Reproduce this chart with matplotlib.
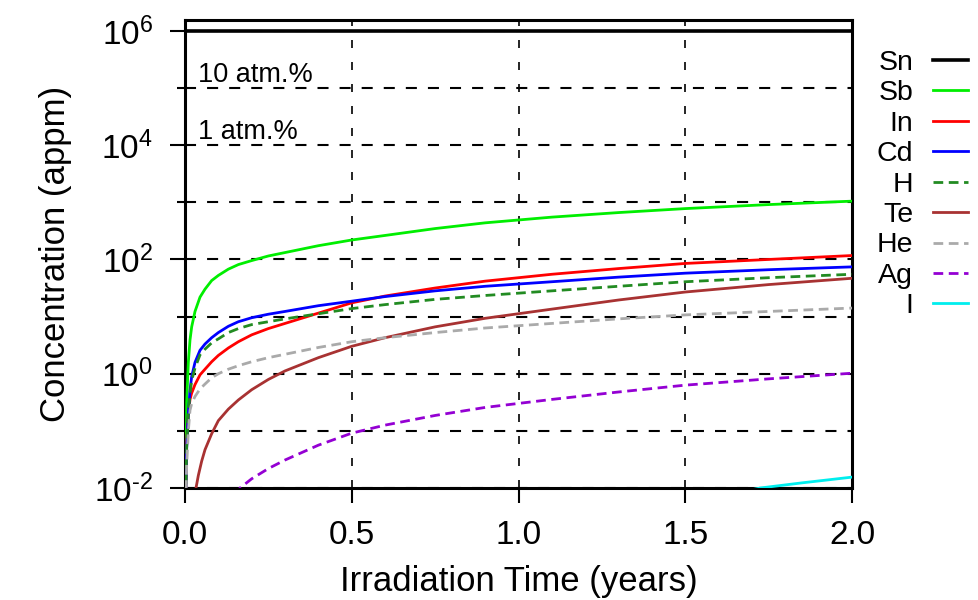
import numpy as np
import matplotlib
matplotlib.use("Agg")
import matplotlib.pyplot as plt

plt.rcParams.update({
    'font.family': 'sans-serif',
    'font.sans-serif': ['Liberation Sans', 'DejaVu Sans'],
    'mathtext.fontset': 'custom',
    'mathtext.rm': 'Liberation Sans',
    'mathtext.it': 'Liberation Sans',
    'mathtext.default': 'regular',
})

# concentrations (appm), time in years
t_sn = [0.0, 2.0]
sn = [1.0e6, 1.0e6]

t_sb = [0.002, 0.005, 0.01, 0.015, 0.02, 0.03, 0.045, 0.06, 0.08, 0.1, 0.13, 0.16,
        0.2, 0.25, 0.3, 0.4, 0.5, 0.6, 0.75, 0.9, 1.1, 1.3, 1.5, 1.75, 2.0]
sb = [0.0063, 0.32, 1.58, 3.9, 6.6, 12.3, 21.9, 30.2, 42.7, 52.5, 67.6, 81.3,
      95.5, 115, 132, 174, 219, 263, 347, 437, 550, 661, 776, 912, 1047]

t_in = [0.002, 0.005, 0.01, 0.015, 0.02, 0.03, 0.045, 0.06, 0.08, 0.1, 0.13, 0.16,
        0.2, 0.25, 0.3, 0.4, 0.5, 0.6, 0.75, 0.9, 1.1, 1.3, 1.5, 1.75, 2.0]
in_ = [0.0063, 0.063, 0.2, 0.355, 0.457, 0.646, 0.955, 1.2, 1.62, 2.09, 2.82, 3.63,
       4.79, 6.17, 7.59, 11.5, 17.4, 22.9, 31.6, 41.7, 55, 69.2, 85.1, 100, 117]

t_cd = [0.002, 0.005, 0.01, 0.015, 0.02, 0.03, 0.045, 0.06, 0.08, 0.1, 0.13, 0.16,
        0.2, 0.25, 0.3, 0.4, 0.5, 0.6, 0.75, 0.9, 1.1, 1.3, 1.5, 1.75, 2.0]
cd = [0.0063, 0.05, 0.2, 0.51, 0.89, 1.58, 2.57, 3.31, 4.27, 5.25, 6.76, 8.13,
      9.55, 11.0, 12.3, 15.5, 18.6, 22.4, 28.2, 33.9, 40.7, 49.0, 57.5, 66.1, 74.1]

t_h = [0.002, 0.005, 0.01, 0.015, 0.02, 0.03, 0.045, 0.06, 0.08, 0.1, 0.13, 0.16,
       0.2, 0.25, 0.3, 0.4, 0.5, 0.6, 0.75, 0.9, 1.1, 1.3, 1.5, 1.75, 2.0]
h = [0.0063, 0.05, 0.2, 0.45, 0.76, 1.26, 2.14, 2.69, 3.47, 4.07, 5.25, 6.17,
     7.24, 8.13, 9.12, 11.2, 13.8, 16.2, 20.0, 23.4, 28.2, 33.9, 40.7, 47.9, 55.0]

t_te = [0.028, 0.033, 0.04, 0.05, 0.06, 0.08, 0.1, 0.13, 0.16, 0.2, 0.25,
        0.3, 0.4, 0.5, 0.6, 0.75, 0.9, 1.1, 1.3, 1.5, 1.75, 2.0]
te = [0.005, 0.01, 0.0166, 0.0295, 0.0468, 0.0891, 0.151, 0.24, 0.347, 0.525, 0.794,
      1.12, 1.91, 3.02, 4.27, 6.61, 9.33, 13.5, 19.5, 26.9, 36.3, 46.8]

t_he = [0.002, 0.005, 0.01, 0.015, 0.02, 0.03, 0.045, 0.06, 0.08, 0.1, 0.13, 0.16,
        0.2, 0.25, 0.3, 0.4, 0.5, 0.6, 0.75, 0.9, 1.1, 1.3, 1.5, 1.75, 2.0]
he = [0.005, 0.025, 0.1, 0.23, 0.30, 0.40, 0.54, 0.66, 0.85, 1.0, 1.2, 1.38,
      1.62, 1.91, 2.19, 2.88, 3.63, 4.27, 5.25, 6.31, 7.59, 9.12, 10.7, 12.3, 14.1]

t_ag = [0.15, 0.165, 0.2, 0.25, 0.3, 0.4, 0.5, 0.6, 0.75, 0.9, 1.1, 1.3, 1.5, 1.75, 2.0]
ag = [0.0076, 0.01, 0.0145, 0.0219, 0.0309, 0.0562, 0.0912, 0.126, 0.186, 0.257,
      0.355, 0.479, 0.631, 0.813, 1.02]

t_i = [1.6, 1.725, 1.85, 2.0]
i_ = [0.0071, 0.01, 0.0123, 0.0155]

x_ticks = [0.0, 0.5, 1.0, 1.5, 2.0]
x_ticklabels = ['0.0', '0.5', '1.0', '1.5', '2.0']
y_major = [1e-2, 1e0, 1e2, 1e4, 1e6]
y_major_labels = ['$10^{\u20102}$', '$10^{0}$', '$10^{2}$', '$10^{4}$', '$10^{6}$']
y_minor = [1e-1, 1e1, 1e3, 1e5]

dash = (0, (3.5, 2))
series = [
    ('Sn', t_sn, sn, 'black', '-', 2.6),
    ('Sb', t_sb, sb, '#00ee00', '-', 2.0),
    ('In', t_in, in_, '#ff0000', '-', 2.0),
    ('Cd', t_cd, cd, '#0000ff', '-', 2.0),
    ('H', t_h, h, '#228b22', dash, 2.0),
    ('Te', t_te, te, '#a83232', '-', 2.0),
    ('He', t_he, he, '#aaaaaa', dash, 2.0),
    ('Ag', t_ag, ag, '#9400d3', dash, 2.0),
    ('I', t_i, i_, '#00eeee', '-', 2.0),
]

fig = plt.figure(figsize=(9.79, 6.0), dpi=100)
ax = fig.add_axes([185 / 979, 112 / 600, 667 / 979, 468 / 600])

for name, t, c, col, ls, lw in series:
    ax.plot(t, c, color=col, linestyle=ls, linewidth=lw, label=name, zorder=3)

ax.set_yscale('log')
ax.set_xlim(0, 2.0)
ax.set_ylim(1e-2, 1.55e6)

ax.set_xticks(x_ticks)
ax.set_xticklabels(x_ticklabels)
ax.set_yticks(y_major)
ax.set_yticklabels(y_major_labels)
ax.set_yticks(y_minor, minor=True)
ax.yaxis.set_minor_formatter(matplotlib.ticker.NullFormatter())
ax.xaxis.set_minor_locator(matplotlib.ticker.NullLocator())

ax.tick_params(axis='both', which='major', direction='out', length=11, width=1.5,
               labelsize=24, pad=12, color='black')
ax.tick_params(axis='y', which='minor', direction='out', length=6, width=1.5)
ax.tick_params(axis='y', which='major', pad=12)

ax.grid(True, axis='y', which='both', color='black', linewidth=1.5,
        linestyle=(0, (5.3, 5.3)), zorder=1)
ax.grid(True, axis='x', which='major', color='black', linewidth=1.2,
        linestyle=(0, (4.8, 8.4)), zorder=1)

for sp in ax.spines.values():
    sp.set_linewidth(2.2)

ax.set_xlabel('Irradiation Time (years)', fontsize=25, labelpad=10)
ax.set_ylabel('Concentration (appm)', fontsize=25)
ax.yaxis.set_label_coords(-0.17, 0.5)

ax.text(0.04, 1.3e5, '10 atm.%', fontsize=19.5, va='baseline', ha='left')
ax.text(0.04, 1.26e4, '1 atm.%', fontsize=19.5, va='baseline', ha='left')

ax.legend(loc='upper right', bbox_to_anchor=(968 / 979, 1 - 50 / 600),
          bbox_transform=fig.transFigure, frameon=False, markerfirst=False,
          fontsize=20.5, handlelength=1.23, handletextpad=0.7, labelspacing=0.155,
          borderpad=0, borderaxespad=0)

fig.savefig('out.png', dpi=100, facecolor='white')
plt.close(fig)
